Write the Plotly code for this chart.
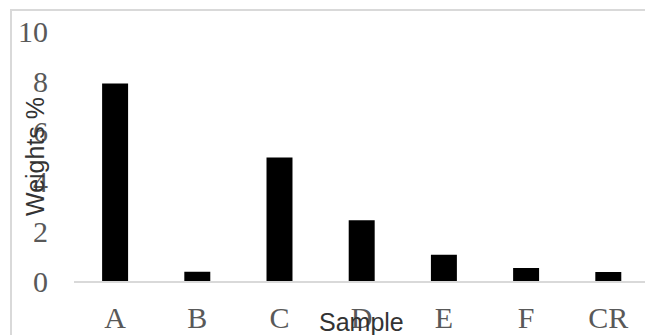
import plotly.graph_objects as go

categories = ["A", "B", "C", "D", "E", "F", "CR"]
weights = [7.9, 0.37, 4.94, 2.43, 1.05, 0.52, 0.36]
y_ticks = [0, 2, 4, 6, 8, 10]

W, H = 645, 335
L, R, T, B = 74, 0, 31, 54
pw, ph = W - L - R, H - T - B
cat_px = 82.2
x_max = -0.5 + pw / cat_px

fig = go.Figure(go.Bar(
    x=categories, y=weights,
    marker=dict(color="#000000", line=dict(width=0)),
))

def px_to_paper_x(px):
    return (px - L) / pw

def px_to_paper_y(py):
    return (H - B - py) / ph

fig.update_layout(
    width=W, height=H,
    margin=dict(l=L, r=R, t=T, b=B, pad=0),
    paper_bgcolor="white", plot_bgcolor="white",
    bargap=0.684,
    showlegend=False,
    xaxis=dict(
        type="category", range=[-0.5, x_max],
        showline=True, linecolor="#d9d9d9", linewidth=2,
        showgrid=False, zeroline=False, ticks="",
        tickfont=dict(family="Liberation Serif", size=30, color="#595959"),
        ticklabelstandoff=9,
    ),
    yaxis=dict(
        range=[0, 10], tickvals=y_ticks,
        showline=False, showgrid=False, zeroline=False, ticks="",
        tickfont=dict(family="Liberation Serif", size=30, color="#595959"),
        ticklabelstandoff=25,
    ),
    annotations=[
        dict(text="Weights %", textangle=-90, showarrow=False,
             xref="paper", yref="paper",
             x=px_to_paper_x(35), y=px_to_paper_y(157),
             xanchor="center", yanchor="middle",
             font=dict(family="Liberation Sans", size=25, color="#333333")),
        dict(text="Sample", showarrow=False,
             xref="paper", yref="paper",
             x=px_to_paper_x(361), y=px_to_paper_y(322),
             xanchor="center", yanchor="middle",
             font=dict(family="Liberation Sans", size=25, color="#333333")),
    ],
    shapes=[
        dict(type="rect", xref="paper", yref="paper",
             x0=px_to_paper_x(11), x1=px_to_paper_x(660),
             y0=px_to_paper_y(350), y1=px_to_paper_y(10),
             line=dict(color="#d9d9d9", width=2), fillcolor="rgba(0,0,0,0)",
             layer="below"),
    ],
)

fig.write_html("out.html")
